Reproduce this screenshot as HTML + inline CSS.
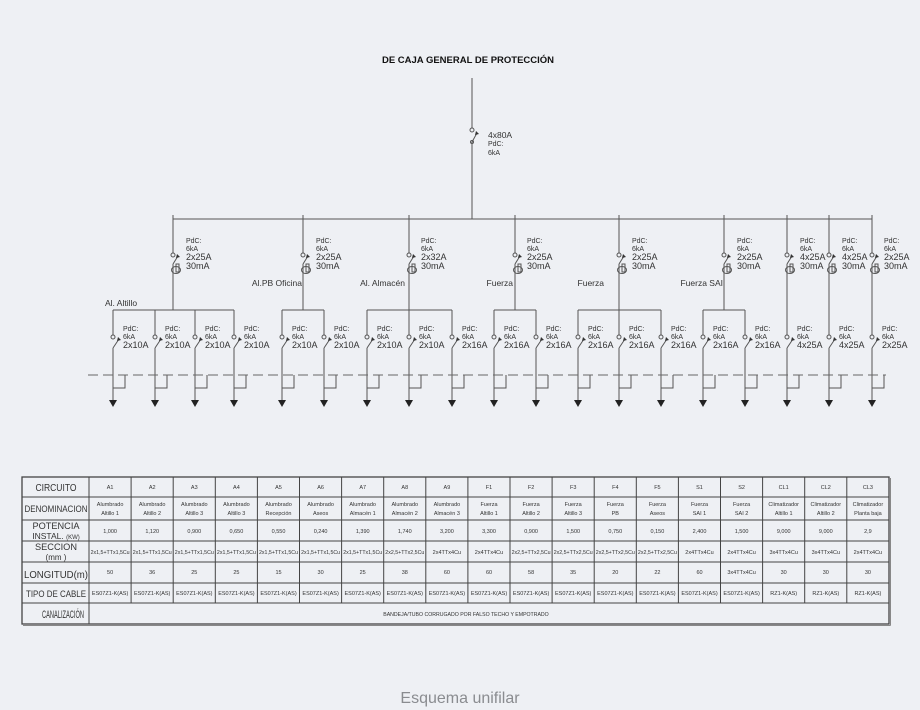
<!DOCTYPE html>
<html><head><meta charset="utf-8"><style>
html,body{margin:0;padding:0;background:#eef0f4;}
svg{display:block;}
.t{font-family:"Liberation Sans",sans-serif;fill:#333;}
</style></head><body>
<svg width="920" height="710" viewBox="0 0 920 710" xmlns="http://www.w3.org/2000/svg">
<defs>
<g id="rcd">
  <line x1="0" y1="-40" x2="0" y2="-2" />
  <circle cx="0" cy="0" r="2" fill="none"/>
  <line x1="0" y1="9" x2="5" y2="1"/>
  <path d="M4,-1 L7,2 L3,3 Z" fill="#333" stroke="none"/>
  <ellipse cx="3" cy="15" rx="4.5" ry="3.5" fill="none"/>
  <rect x="3" y="9" width="3" height="8" fill="none"/>
  <line x1="0" y1="9" x2="0" y2="55"/>
</g>
<g id="cb">
  <line x1="0" y1="-27" x2="0" y2="-2"/>
  <circle cx="0" cy="0" r="2" fill="none"/>
  <line x1="0" y1="11" x2="6" y2="2"/>
  <path d="M5,0 L8,3 L4,4 Z" fill="#333" stroke="none"/>
  <line x1="0" y1="11" x2="0" y2="63"/>
  <path d="M0,51 H12 V38" fill="none"/>
  <path d="M-4,63 L4,63 L0,70 Z" fill="#222" stroke="none"/>
</g>
</defs>
<g stroke="#555" stroke-width="1" fill="none">
  <line x1="472" y1="78" x2="472" y2="128"/>
  <circle cx="472" cy="130" r="2"/>
  <line x1="472" y1="142" x2="477" y2="133"/>
  <path d="M476,131 L479,134 L475,135 Z" fill="#333" stroke="none"/>
  <circle cx="472" cy="142" r="1.5"/>
  <line x1="472" y1="142" x2="472" y2="219"/>
  <line x1="173" y1="219" x2="872" y2="219"/>
  <line x1="113" y1="310" x2="234" y2="310"/>
  <line x1="282" y1="310" x2="324" y2="310"/>
  <line x1="367" y1="310" x2="452" y2="310"/>
  <line x1="494" y1="310" x2="536" y2="310"/>
  <line x1="578" y1="310" x2="661" y2="310"/>
  <line x1="703" y1="310" x2="745" y2="310"/>
  <use href="#rcd" x="173" y="255"/>
  <use href="#rcd" x="303" y="255"/>
  <use href="#rcd" x="409" y="255"/>
  <use href="#rcd" x="515" y="255"/>
  <use href="#rcd" x="619" y="255"/>
  <use href="#rcd" x="724" y="255"/>
  <use href="#rcd" x="787" y="255"/>
  <use href="#rcd" x="829" y="255"/>
  <use href="#rcd" x="872" y="255"/>
  <use href="#cb" x="113" y="337"/><use href="#cb" x="155" y="337"/>
  <use href="#cb" x="195" y="337"/><use href="#cb" x="234" y="337"/>
  <use href="#cb" x="282" y="337"/><use href="#cb" x="324" y="337"/>
  <use href="#cb" x="367" y="337"/><use href="#cb" x="409" y="337"/>
  <use href="#cb" x="452" y="337"/><use href="#cb" x="494" y="337"/>
  <use href="#cb" x="536" y="337"/><use href="#cb" x="578" y="337"/>
  <use href="#cb" x="619" y="337"/><use href="#cb" x="661" y="337"/>
  <use href="#cb" x="703" y="337"/><use href="#cb" x="745" y="337"/>
  <use href="#cb" x="787" y="337"/><use href="#cb" x="829" y="337"/>
  <use href="#cb" x="872" y="337"/>
  <line x1="88" y1="375" x2="886" y2="375" stroke="#666" stroke-dasharray="10,5"/>
</g>

<g class="t" font-size="10">
<text x="468" y="63" text-anchor="middle" font-weight="bold" font-size="9.5" fill="#111">DE CAJA GENERAL DE PROTECCIÓN</text>
<text x="488" y="138" font-size="8.5">4x80A</text>
<text x="488" y="146" font-size="7">PdC:</text>
<text x="488" y="155" font-size="7">6kA</text>
</g>

<g class="t" font-size="7">
<text x="186" y="243">PdC:</text><text x="186" y="251">6kA</text><text x="186" y="260" font-size="9">2x25A</text><text x="186" y="269" font-size="9">30mA</text>
<text x="316" y="243">PdC:</text><text x="316" y="251">6kA</text><text x="316" y="260" font-size="9">2x25A</text><text x="316" y="269" font-size="9">30mA</text>
<text x="421" y="243">PdC:</text><text x="421" y="251">6kA</text><text x="421" y="260" font-size="9">2x32A</text><text x="421" y="269" font-size="9">30mA</text>
<text x="527" y="243">PdC:</text><text x="527" y="251">6kA</text><text x="527" y="260" font-size="9">2x25A</text><text x="527" y="269" font-size="9">30mA</text>
<text x="632" y="243">PdC:</text><text x="632" y="251">6kA</text><text x="632" y="260" font-size="9">2x25A</text><text x="632" y="269" font-size="9">30mA</text>
<text x="737" y="243">PdC:</text><text x="737" y="251">6kA</text><text x="737" y="260" font-size="9">2x25A</text><text x="737" y="269" font-size="9">30mA</text>
<text x="800" y="243">PdC:</text><text x="800" y="251">6kA</text><text x="800" y="260" font-size="9">4x25A</text><text x="800" y="269" font-size="9">30mA</text>
<text x="842" y="243">PdC:</text><text x="842" y="251">6kA</text><text x="842" y="260" font-size="9">4x25A</text><text x="842" y="269" font-size="9">30mA</text>
<text x="884" y="243">PdC:</text><text x="884" y="251">6kA</text><text x="884" y="260" font-size="9">2x25A</text><text x="884" y="269" font-size="9">30mA</text>
</g>

<g class="t" font-size="8.5">
<text x="105" y="306">Al.  Altillo</text>
<text x="302" y="286" text-anchor="end">Al.PB  Oficina</text>
<text x="405" y="286" text-anchor="end">Al.  Almacén</text>
<text x="513" y="286" text-anchor="end">Fuerza</text>
<text x="604" y="286" text-anchor="end">Fuerza</text>
<text x="723" y="286" text-anchor="end">Fuerza  SAI</text>
</g>

<g class="t" font-size="7">
<text x="123" y="331">PdC:</text><text x="123" y="339">6kA</text><text x="123" y="348" font-size="9">2x10A</text>
<text x="165" y="331">PdC:</text><text x="165" y="339">6kA</text><text x="165" y="348" font-size="9">2x10A</text>
<text x="205" y="331">PdC:</text><text x="205" y="339">6kA</text><text x="205" y="348" font-size="9">2x10A</text>
<text x="244" y="331">PdC:</text><text x="244" y="339">6kA</text><text x="244" y="348" font-size="9">2x10A</text>
<text x="292" y="331">PdC:</text><text x="292" y="339">6kA</text><text x="292" y="348" font-size="9">2x10A</text>
<text x="334" y="331">PdC:</text><text x="334" y="339">6kA</text><text x="334" y="348" font-size="9">2x10A</text>
<text x="377" y="331">PdC:</text><text x="377" y="339">6kA</text><text x="377" y="348" font-size="9">2x10A</text>
<text x="419" y="331">PdC:</text><text x="419" y="339">6kA</text><text x="419" y="348" font-size="9">2x10A</text>
<text x="462" y="331">PdC:</text><text x="462" y="339">6kA</text><text x="462" y="348" font-size="9">2x16A</text>
<text x="504" y="331">PdC:</text><text x="504" y="339">6kA</text><text x="504" y="348" font-size="9">2x16A</text>
<text x="546" y="331">PdC:</text><text x="546" y="339">6kA</text><text x="546" y="348" font-size="9">2x16A</text>
<text x="588" y="331">PdC:</text><text x="588" y="339">6kA</text><text x="588" y="348" font-size="9">2x16A</text>
<text x="629" y="331">PdC:</text><text x="629" y="339">6kA</text><text x="629" y="348" font-size="9">2x16A</text>
<text x="671" y="331">PdC:</text><text x="671" y="339">6kA</text><text x="671" y="348" font-size="9">2x16A</text>
<text x="713" y="331">PdC:</text><text x="713" y="339">6kA</text><text x="713" y="348" font-size="9">2x16A</text>
<text x="755" y="331">PdC:</text><text x="755" y="339">6kA</text><text x="755" y="348" font-size="9">2x16A</text>
<text x="797" y="331">PdC:</text><text x="797" y="339">6kA</text><text x="797" y="348" font-size="9">4x25A</text>
<text x="839" y="331">PdC:</text><text x="839" y="339">6kA</text><text x="839" y="348" font-size="9">4x25A</text>
<text x="882" y="331">PdC:</text><text x="882" y="339">6kA</text><text x="882" y="348" font-size="9">2x25A</text>
</g>

<g stroke="#444" stroke-width="1" fill="none">
  <rect x="22" y="477" width="867" height="147" stroke-width="1.3"/>
  <line x1="22" y1="497" x2="889" y2="497"/>
  <line x1="22" y1="520" x2="889" y2="520"/>
  <line x1="22" y1="541" x2="889" y2="541"/>
  <line x1="22" y1="562" x2="889" y2="562"/>
  <line x1="22" y1="583" x2="889" y2="583"/>
  <line x1="22" y1="603" x2="889" y2="603"/>
  <line x1="89" y1="477" x2="89" y2="624"/>
  <line x1="131.1" y1="477" x2="131.1" y2="603"/><line x1="173.2" y1="477" x2="173.2" y2="603"/>
  <line x1="215.3" y1="477" x2="215.3" y2="603"/><line x1="257.4" y1="477" x2="257.4" y2="603"/>
  <line x1="299.5" y1="477" x2="299.5" y2="603"/><line x1="341.6" y1="477" x2="341.6" y2="603"/>
  <line x1="383.7" y1="477" x2="383.7" y2="603"/><line x1="425.8" y1="477" x2="425.8" y2="603"/>
  <line x1="467.9" y1="477" x2="467.9" y2="603"/><line x1="510" y1="477" x2="510" y2="603"/>
  <line x1="552.1" y1="477" x2="552.1" y2="603"/><line x1="594.2" y1="477" x2="594.2" y2="603"/>
  <line x1="636.3" y1="477" x2="636.3" y2="603"/><line x1="678.4" y1="477" x2="678.4" y2="603"/>
  <line x1="720.5" y1="477" x2="720.5" y2="603"/><line x1="762.6" y1="477" x2="762.6" y2="603"/>
  <line x1="804.7" y1="477" x2="804.7" y2="603"/><line x1="846.8" y1="477" x2="846.8" y2="603"/>
  <line x1="23" y1="625.5" x2="890.5" y2="625.5" stroke="#888"/>
  <line x1="890.5" y1="478" x2="890.5" y2="625.5" stroke="#888"/>
</g>

<g class="t" font-size="10" text-anchor="middle" fill="#333">
<text x="56" y="491" textLength="41" lengthAdjust="spacingAndGlyphs">CIRCUITO</text>
<text x="56" y="512" font-size="9.5" textLength="63" lengthAdjust="spacingAndGlyphs">DENOMINACION</text>
<text x="56" y="529" font-size="9.5" textLength="47" lengthAdjust="spacingAndGlyphs">POTENCIA</text>
<text x="56" y="539" font-size="8.5">INSTAL.  <tspan font-size="6">(KW)</tspan></text>
<text x="56" y="550" font-size="9.5" textLength="42" lengthAdjust="spacingAndGlyphs">SECCION</text>
<text x="56" y="560" font-size="8">(mm  )</text>
<text x="56" y="578" font-size="10.5" textLength="64" lengthAdjust="spacingAndGlyphs">LONGITUD(m)</text>
<text x="56" y="597" font-size="9" textLength="60" lengthAdjust="spacingAndGlyphs">TIPO  DE  CABLE</text>
<text x="63" y="618" font-size="11" textLength="42" lengthAdjust="spacingAndGlyphs">CANALIZACIÓN</text>
</g>

<g class="t" font-size="5.5" text-anchor="middle">
<g transform="translate(0,489)">
<text x="110.1">A1</text><text x="152.2">A2</text><text x="194.3">A3</text><text x="236.4">A4</text><text x="278.5">A5</text><text x="320.6">A6</text><text x="362.7">A7</text><text x="404.8">A8</text><text x="446.9">A9</text><text x="489">F1</text><text x="531.1">F2</text><text x="573.2">F3</text><text x="615.3">F4</text><text x="657.4">F5</text><text x="699.5">S1</text><text x="741.6">S2</text><text x="783.7">CL1</text><text x="825.8">CL2</text><text x="867.9">CL3</text>
</g>
<g transform="translate(0,506)">
<text x="110.1">Alumbrado</text><text x="152.2">Alumbrado</text><text x="194.3">Alumbrado</text><text x="236.4">Alumbrado</text><text x="278.5">Alumbrado</text><text x="320.6">Alumbrado</text><text x="362.7">Alumbrado</text><text x="404.8">Alumbrado</text><text x="446.9">Alumbrado</text><text x="489">Fuerza</text><text x="531.1">Fuerza</text><text x="573.2">Fuerza</text><text x="615.3">Fuerza</text><text x="657.4">Fuerza</text><text x="699.5">Fuerza</text><text x="741.6">Fuerza</text><text x="783.7">Climatizador</text><text x="825.8">Climatizador</text><text x="867.9">Climatizador</text>
</g>
<g transform="translate(0,515)">
<text x="110.1">Altillo  1</text><text x="152.2">Altillo  2</text><text x="194.3">Altillo  3</text><text x="236.4">Altillo  3</text><text x="278.5">Recepción</text><text x="320.6">Aseos</text><text x="362.7">Almacén  1</text><text x="404.8">Almacén  2</text><text x="446.9">Almacén  3</text><text x="489">Altillo  1</text><text x="531.1">Altillo  2</text><text x="573.2">Altillo  3</text><text x="615.3">PB</text><text x="657.4">Aseos</text><text x="699.5">SAI  1</text><text x="741.6">SAI  2</text><text x="783.7">Altillo  1</text><text x="825.8">Altillo  2</text><text x="867.9">Planta  baja</text>
</g>
<g transform="translate(0,533)">
<text x="110.1">1,000</text><text x="152.2">1,120</text><text x="194.3">0,900</text><text x="236.4">0,650</text><text x="278.5">0,550</text><text x="320.6">0,240</text><text x="362.7">1,390</text><text x="404.8">1,740</text><text x="446.9">3,200</text><text x="489">3,300</text><text x="531.1">0,900</text><text x="573.2">1,500</text><text x="615.3">0,750</text><text x="657.4">0,150</text><text x="699.5">2,400</text><text x="741.6">1,500</text><text x="783.7">9,000</text><text x="825.8">9,000</text><text x="867.9">2,9</text>
</g>
<g transform="translate(0,554)">
<text x="110.1" textLength="39" lengthAdjust="spacingAndGlyphs">2x1,5+TTx1,5Cu</text><text x="152.2" textLength="39" lengthAdjust="spacingAndGlyphs">2x1,5+TTx1,5Cu</text><text x="194.3" textLength="39" lengthAdjust="spacingAndGlyphs">2x1,5+TTx1,5Cu</text><text x="236.4" textLength="39" lengthAdjust="spacingAndGlyphs">2x1,5+TTx1,5Cu</text><text x="278.5" textLength="39" lengthAdjust="spacingAndGlyphs">2x1,5+TTx1,5Cu</text><text x="320.6" textLength="39" lengthAdjust="spacingAndGlyphs">2x1,5+TTx1,5Cu</text><text x="362.7" textLength="39" lengthAdjust="spacingAndGlyphs">2x1,5+TTx1,5Cu</text><text x="404.8" textLength="39" lengthAdjust="spacingAndGlyphs">2x2,5+TTx2,5Cu</text><text x="446.9">2x4TTx4Cu</text><text x="489">2x4TTx4Cu</text><text x="531.1" textLength="39" lengthAdjust="spacingAndGlyphs">2x2,5+TTx2,5Cu</text><text x="573.2" textLength="39" lengthAdjust="spacingAndGlyphs">2x2,5+TTx2,5Cu</text><text x="615.3" textLength="39" lengthAdjust="spacingAndGlyphs">2x2,5+TTx2,5Cu</text><text x="657.4" textLength="39" lengthAdjust="spacingAndGlyphs">2x2,5+TTx2,5Cu</text><text x="699.5">2x4TTx4Cu</text><text x="741.6">2x4TTx4Cu</text><text x="783.7">3x4TTx4Cu</text><text x="825.8">3x4TTx4Cu</text><text x="867.9">2x4TTx4Cu</text>
</g>
<g transform="translate(0,574)">
<text x="110.1">50</text><text x="152.2">36</text><text x="194.3">25</text><text x="236.4">25</text><text x="278.5">15</text><text x="320.6">30</text><text x="362.7">25</text><text x="404.8">38</text><text x="446.9">60</text><text x="489">60</text><text x="531.1">58</text><text x="573.2">35</text><text x="615.3">20</text><text x="657.4">22</text><text x="699.5">60</text><text x="741.6">3x4TTx4Cu</text><text x="783.7">30</text><text x="825.8">30</text><text x="867.9">30</text>
</g>
<g transform="translate(0,595)">
<text x="110.1">ES07Z1-K(AS)</text><text x="152.2">ES07Z1-K(AS)</text><text x="194.3">ES07Z1-K(AS)</text><text x="236.4">ES07Z1-K(AS)</text><text x="278.5">ES07Z1-K(AS)</text><text x="320.6">ES07Z1-K(AS)</text><text x="362.7">ES07Z1-K(AS)</text><text x="404.8">ES07Z1-K(AS)</text><text x="446.9">ES07Z1-K(AS)</text><text x="489">ES07Z1-K(AS)</text><text x="531.1">ES07Z1-K(AS)</text><text x="573.2">ES07Z1-K(AS)</text><text x="615.3">ES07Z1-K(AS)</text><text x="657.4">ES07Z1-K(AS)</text><text x="699.5">ES07Z1-K(AS)</text><text x="741.6">ES07Z1-K(AS)</text><text x="783.7">RZ1-K(AS)</text><text x="825.8">RZ1-K(AS)</text><text x="867.9">RZ1-K(AS)</text>
</g>
<text x="466" y="616" font-size="5.2">BANDEJA/TUBO  CORRUGADO  POR  FALSO  TECHO  Y  EMPOTRADO</text>
</g>

<text x="460" y="703" text-anchor="middle" font-family="Liberation Sans, sans-serif" font-size="16" fill="#8a8c90">Esquema unifilar</text>
</svg>
</body></html>
